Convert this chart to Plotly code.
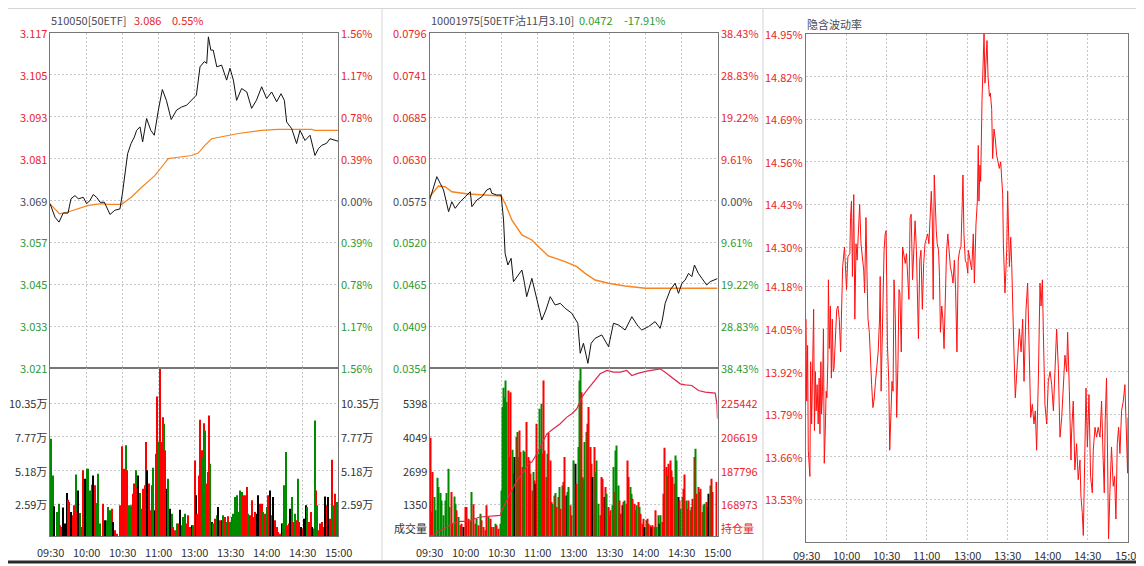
import plotly.graph_objects as go

# The page body adds an 8px margin, so the figure is sized to fit the window and
# every layout pixel position below is given in window coordinates.
OFF = 8
W, H = 1144 - OFF, 566 - OFF


def px(x):
    return (x - OFF) / W


def py(y):
    return 1 - (y - OFF) / H


RED = "#E8262B"
GREEN = "#2E9B2E"
NEUT = "#4A4A58"
TXT = "#333333"
GRID = "#C8C8C8"
FRAME = "#767676"
FONT = "Noto Sans CJK SC, sans-serif"
BAR_COL = {"r": "#FF0000", "g": "#008A00", "k": "#000000"}

# ---------------- time axis ----------------
time_ticks = [0, 30, 60, 90, 120, 150, 180, 210, 240]
time_labels = ["09:30", "10:00", "10:30", "11:00", "13:00", "13:30", "14:00", "14:30", "15:00"]

# ---------------- 510050 (left) ----------------
etf_t = [0, 4.2, 7.5, 11, 15, 17.5, 20.8, 23.6, 27.8, 30.5,
         33.3, 36, 38.9, 41.7, 45.3, 50, 54, 58.3, 60.3, 62.5,
         64.7, 67.5, 70.3, 72.2, 75, 77.2, 80.5, 84, 86.9, 90.3,
         93.6, 97, 101, 105.5, 109.7, 113.9, 118, 122, 125, 128.6,
         130.6, 132, 134, 136, 139, 143, 147.2, 150, 152.8, 155.5,
         159.7, 164, 168, 172, 176.4, 180.5, 184.7, 188.9, 192.5, 195.3,
         197.2, 201.4, 205.5, 208.3, 212.5, 216.7, 220.8, 223.6, 226.4, 230.5,
         233.3, 236.9, 240]
etf_price = [3.0681, 3.0642, 3.0628, 3.0654, 3.0654, 3.0695, 3.0704, 3.0695, 3.0699, 3.0681,
             3.0690, 3.0707, 3.0699, 3.0685, 3.0685, 3.0650, 3.0662, 3.0666, 3.0709, 3.0767,
             3.0824, 3.0853, 3.0872, 3.0891, 3.0901, 3.0858, 3.0925, 3.0891, 3.0877, 3.0949,
             3.1008, 3.0977, 3.0922, 3.0949, 3.0958, 3.0963, 3.0977, 3.0992, 3.1073, 3.1088,
             3.1083, 3.1159, 3.1121, 3.1121, 3.1073, 3.1078, 3.1035, 3.1069, 3.1035, 3.0977,
             3.1011, 3.1001, 3.0954, 3.0977, 3.1016, 3.0982, 3.1001, 3.0973, 3.0996, 3.0977,
             3.0915, 3.0896, 3.0853, 3.0891, 3.0862, 3.0877, 3.0819, 3.0838, 3.0848, 3.0854,
             3.0867, 3.0862, 3.0860]
etf_avg_t = [0, 7.9, 15, 23.6, 31.9, 43, 48.6, 59.7, 68, 76.4, 87.5, 93, 98.6,
             107, 118, 123.6, 129, 134.7, 143, 157, 176.4, 190, 218, 220.8, 240]
etf_avg = [3.0680, 3.0652, 3.0657, 3.0666, 3.0676, 3.0681, 3.0679, 3.0679, 3.0700, 3.0728,
           3.0762, 3.0786, 3.0810, 3.0814, 3.0819, 3.0826, 3.0848, 3.0867, 3.0872, 3.0882,
           3.0891, 3.0894, 3.0894, 3.0891, 3.0891]
etf_price_ticks = [3.117, 3.105, 3.093, 3.081, 3.069, 3.057, 3.045, 3.033, 3.021]
etf_pct_labels = ["1.56%", "1.17%", "0.78%", "0.39%", "0.00%", "0.39%", "0.78%", "1.17%", "1.56%"]
etf_vol_ticks = [2.59, 5.18, 7.77, 10.35]
etf_vol_labels = ["2.59万", "5.18万", "7.77万", "10.35万"]

etf_vol_t = [0.8, 1.9, 2.8, 3.6, 5.6, 7.2, 8.3, 9.7, 11.1, 12.5,
             13.9, 15.3, 16.1, 17.5, 18.9, 20.0, 21.4, 22.2, 23.6, 25.0,
             26.4, 27.8, 29.2, 30.6, 32.0, 33.3, 34.7, 36.1, 37.5, 38.9,
             39.7, 41.7, 44.4, 45.8, 47.2, 48.6, 50.0, 51.4, 52.8, 54.2,
             56.1, 58.3, 60.3, 61.7, 63.1, 64.2, 65.3, 66.7, 68.1, 69.4,
             70.3, 71.4, 72.2, 73.6, 75.0, 76.4, 77.8, 79.2, 80.0, 81.1,
             82.5, 83.9, 85.3, 86.1, 87.5, 88.3, 89.4, 90.6, 91.7, 92.8,
             93.9, 95.0, 96.1, 97.2, 98.6, 100.0, 101.4, 102.8, 104.2, 105.6,
             106.9, 108.3, 109.7, 111.1, 112.5, 113.9, 115.3, 116.7, 118.1, 119.4,
             120.8, 121.7, 122.8, 123.9, 125.0, 126.4, 127.2, 128.3, 129.2, 130.6,
             131.4, 132.5, 133.3, 134.7, 136.1, 137.5, 138.9, 140.3, 141.7, 143.1,
             144.4, 145.8, 147.2, 148.6, 150.0, 151.4, 152.8, 154.2, 155.6, 156.9,
             158.3, 159.7, 161.1, 162.5, 163.9, 165.3, 166.7, 168.1, 169.4, 170.8,
             172.2, 173.6, 175.0, 176.4, 177.8, 179.2, 180.6, 181.9, 183.3, 184.7,
             186.1, 187.5, 188.9, 190.3, 191.7, 193.1, 194.4, 195.3, 196.4, 197.8,
             199.2, 200.0, 201.4, 202.8, 204.2, 205.6, 206.4, 207.8, 209.2, 210.6,
             211.9, 213.3, 214.4, 215.8, 217.2, 218.6, 220.0, 220.8, 221.7, 222.8,
             223.6, 225.0, 226.4, 227.8, 229.2, 230.6, 231.9, 233.3, 234.7, 236.1,
             237.5, 238.9, 239.7]
etf_vol = [7.62, 2.77, 4.81, 2.44, 2.00, 2.64, 0.98, 0.85, 2.34, 1.11,
           3.46, 2.95, 2.77, 2.00, 1.75, 2.51, 4.87, 2.00, 3.66, 1.93,
           0.85, 5.20, 4.56, 5.32, 5.32, 3.66, 4.10, 4.81, 4.05, 2.69,
           4.94, 1.11, 2.64, 1.36, 1.36, 2.39, 2.13, 2.26, 1.24, 0.60,
           0.34, 2.51, 7.04, 5.32, 7.12, 5.20, 2.51, 2.51, 2.51, 3.41,
           4.18, 5.20, 3.92, 4.81, 3.46, 2.26, 3.79, 4.05, 7.37, 5.20,
           4.18, 2.13, 4.05, 5.40, 2.13, 6.47, 10.86, 7.37, 12.98, 7.37,
           9.28, 8.77, 6.73, 3.79, 4.56, 2.26, 1.87, 0.85, 0.60, 1.11,
           1.11, 2.18, 0.98, 1.62, 1.87, 1.11, 1.75, 0.85, 0.98, 0.98,
           5.96, 3.28, 1.87, 4.81, 9.08, 6.73, 6.22, 8.82, 8.26, 4.18,
           5.07, 9.41, 5.71, 1.24, 1.11, 1.49, 1.75, 2.39, 1.36, 1.36,
           1.75, 1.62, 1.24, 1.67, 1.24, 1.62, 1.87, 3.15, 3.28, 2.00,
           3.66, 3.54, 3.28, 3.28, 3.92, 1.87, 1.75, 2.90, 1.62, 2.00,
           1.87, 3.28, 2.64, 2.64, 2.00, 1.87, 2.39, 3.28, 3.66, 1.75,
           3.15, 1.36, 0.85, 0.47, 0.34, 1.11, 1.11, 4.05, 6.60, 0.98,
           1.11, 2.26, 3.15, 1.24, 1.87, 1.36, 4.56, 1.24, 0.85, 0.73,
           1.49, 2.51, 2.39, 1.24, 2.00, 0.85, 0.73, 9.03, 3.66, 2.51,
           0.60, 1.11, 1.24, 0.85, 3.20, 2.51, 3.15, 1.49, 6.01, 2.51,
           3.41, 2.77, 0.34]
etf_vol_dir = list("gggkggrrkk" "krrkrrgrkg" "rrkgggrkrg" "ggrkgggrkr" "rrrrgrgggr"
                   "rgrkggrrrk" "rrrgkrrgrr" "rgrkgkgrrg" "rkrggrrrkg" "rkrrrrgrgr"
                   "rrgkgrgkrk" "grgrgrgggg" "ggrrrgrrrr" "kkrrgrgrkg" "krrrrkgggr"
                   "rkgrgrgrkr" "kkgrrkrgrg" "rrrrkrkrrg" "rgr")

# ---------------- option 10001975 (middle) ----------------
opt_t = [0, 3.4, 6.1, 8.9, 11.7, 15.9, 18.6, 21.4, 25.6, 29.8,
         34, 35.3, 39.5, 43.6, 47.8, 50.6, 51.9, 56, 59.7, 61.7,
         63, 65.3, 68, 70, 73.6, 77, 79.2, 81, 85.3, 89.5,
         93.6, 97, 100.6, 104.7, 109, 113, 118.6, 123.6, 125.6, 128.3,
         132, 134.7, 138, 143.6, 149.2, 153.3, 157.5, 163, 168.6, 174,
         176.9, 182.5, 188, 192.2, 194, 196.4, 200.6, 204.7, 207.5, 210.3,
         213, 215.9, 218.6, 220.8, 224, 227, 231, 233.9, 238, 240]
opt_price = [0.05750, 0.05932, 0.06064, 0.05977, 0.05889, 0.05602, 0.05734, 0.05647, 0.05734, 0.05800,
             0.05866, 0.05668, 0.05756, 0.05800, 0.05889, 0.05911, 0.05845, 0.05823, 0.05823, 0.05493,
             0.05053, 0.04899, 0.04987, 0.04679, 0.04767, 0.04833, 0.04657, 0.04481, 0.04723, 0.04437,
             0.04173, 0.04305, 0.04481, 0.04371, 0.04393, 0.04328, 0.04262, 0.04130, 0.03734, 0.03866,
             0.03602, 0.03866, 0.03932, 0.03976, 0.03821, 0.04130, 0.04108, 0.04041, 0.04217, 0.04086,
             0.04041, 0.04086, 0.04152, 0.04063, 0.04173, 0.04394, 0.04569, 0.04658, 0.04525, 0.04658,
             0.04700, 0.04789, 0.04745, 0.04899, 0.04789, 0.04723, 0.04635, 0.04679, 0.04700, 0.04720]
opt_avg_t = [0, 7.5, 13, 18.6, 32.5, 46.4, 59.7, 63, 68.6, 77, 85.3, 92.2,
             99, 113, 122.8, 129.7, 138, 149, 163, 180, 196.4, 218.6, 240]
opt_avg = [0.05800, 0.05941, 0.05932, 0.05866, 0.05836, 0.05823, 0.05809, 0.05713, 0.05493, 0.05295,
           0.05229, 0.05119, 0.05018, 0.04943, 0.04877, 0.04789, 0.04701, 0.04658, 0.04622, 0.04592,
           0.04592, 0.04592, 0.04592]
opt_price_ticks = [0.0796, 0.0741, 0.0685, 0.0630, 0.0575, 0.0520, 0.0465, 0.0409, 0.0354]
opt_price_labels = ["0.0796", "0.0741", "0.0685", "0.0630", "0.0575", "0.0520", "0.0465", "0.0409", "0.0354"]
opt_pct_labels = ["38.43%", "28.83%", "19.22%", "9.61%", "0.00%", "9.61%", "19.22%", "28.83%", "38.43%"]
opt_vol_ticks = [1350, 2699, 4049, 5398]
opt_oi_ticks = [168973, 187796, 206619, 225442]

opt_vol_t = [0.6, 1.4, 2.8, 3.9, 5.3, 6.7, 7.8, 8.9, 10.3, 11.7,
             13.1, 14.5, 15.8, 16.7, 18.1, 19.2, 20.6, 21.7, 22.8, 24.2,
             25.6, 27.0, 28.3, 29.7, 31.1, 32.5, 33.9, 35.3, 36.7, 38.1,
             39.5, 40.8, 42.2, 43.6, 45.0, 46.4, 47.8, 49.2, 50.6, 52.0,
             53.3, 54.7, 56.1, 57.5, 58.9, 59.7, 60.6, 61.7, 62.2, 63.3,
             64.4, 65.6, 66.7, 67.8, 68.9, 70.0, 71.1, 72.2, 73.1, 74.2,
             75.0, 76.1, 77.2, 78.3, 79.5, 81.1, 82.2, 83.3, 84.5, 85.6,
             86.7, 87.8, 88.6, 89.5, 90.8, 91.7, 92.8, 93.6, 94.5, 95.0,
             95.8, 97.2, 98.3, 99.5, 100.6, 101.7, 102.8, 103.9, 105.0, 106.1,
             107.2, 108.3, 109.5, 110.6, 111.7, 112.8, 113.9, 115.0, 116.1, 117.2,
             118.6, 120.0, 121.4, 122.8, 123.9, 125.0, 125.6, 126.4, 127.2, 128.3,
             129.5, 130.6, 131.7, 132.8, 133.9, 135.0, 136.1, 137.2, 138.3, 139.5,
             140.8, 142.2, 143.3, 144.5, 145.6, 146.7, 147.8, 148.9, 150.0, 151.1,
             152.2, 153.3, 154.5, 155.3, 156.1, 157.2, 158.3, 159.5, 160.6, 161.7,
             162.8, 163.9, 165.0, 166.1, 167.2, 168.3, 169.5, 170.6, 171.7, 172.8,
             173.9, 175.0, 176.1, 177.2, 178.3, 179.5, 180.6, 181.7, 182.8, 183.9,
             185.0, 186.1, 187.2, 188.3, 189.4, 190.6, 191.7, 192.8, 193.9, 195.0,
             196.1, 197.2, 198.3, 199.5, 200.6, 201.7, 202.8, 203.9, 205.0, 206.1,
             207.2, 208.3, 209.4, 210.6, 211.7, 212.8, 213.9, 215.0, 216.1, 217.2,
             218.3, 219.4, 220.6, 221.7, 222.8, 223.9, 225.0, 226.1, 227.2, 228.3,
             229.5, 230.6, 231.7, 232.8, 233.9, 235.0, 236.1, 239.5]
opt_vol = [4012, 1040, 2639, 1640, 1106, 2413, 2039, 1800, 1506, 906,
           1506, 1800, 2773, 1240, 1840, 573, 1666, 1373, 1106, 840,
           507, 573, 440, 1240, 1240, 773, 706, 1840, 1346, 573,
           773, 507, 973, 706, 440, 307, 1306, 840, 773, 440,
           440, 573, 507, 373, 573, 1906, 5239, 6012, 5639, 6305,
           5439, 5905, 3239, 5839, 3532, 2573, 3239, 4039, 4239, 3239,
           4306, 3439, 2839, 3506, 3439, 4639, 3239, 3106, 2573, 1906,
           2639, 2306, 2173, 4572, 3372, 5172, 3572, 5372, 3372, 6305,
           3506, 2439, 3372, 4199, 3106, 1440, 1373, 1706, 1800, 1240,
           1640, 2039, 1173, 2106, 2239, 3239, 1706, 1840, 2039, 1306,
           906, 3106, 2973, 2173, 3639, 6305, 6780, 5839, 2439, 2373,
           3839, 4239, 4572, 5239, 3639, 2973, 2439, 3639, 2639, 3106,
           1373, 906, 2439, 2373, 1640, 2039, 1773, 1240, 906, 1106,
           1306, 2839, 1840, 3506, 3706, 2106, 1506, 973, 1306, 1440,
           1506, 1373, 3106, 2439, 2039, 1773, 1573, 1373, 1106, 1306,
           1440, 1240, 973, 573, 773, 440, 706, 773, 573, 507,
           440, 507, 440, 1106, 440, 906, 573, 906, 640, 1773,
           3612, 2839, 2506, 2973, 3106, 2706, 2439, 2173, 3306, 3106,
           1640, 1506, 1173, 1640, 1973, 2546, 1506, 1173, 1506, 1106,
           1240, 1573, 3239, 3572, 1773, 2039, 1840, 1973, 1040, 1306,
           1373, 1440, 1240, 1773, 2106, 2373, 1840, 2239]
opt_vol_dir = list("rrrggggggg" "ggggrrggrg" "rrkrrrrgrr" "grgrrrrgrr" "rgrrgggggg"
                   "grrrggkrgg" "rrrggrrrrr" "grkrggggrr" "rrgrrrgrgr" "rgrgrrkggr"
                   "rgkrgggrrg" "ggrrrrkrgg" "grrrkrgrrr" "ggrgggrrkr" "grrrggrrrg"
                   "rgrrrkgrrr" "krgrggkgrr" "rrgrrrrrgg" "krggrrgrrr" "grrgrrgrrg"
                   "grrkgrrr")

oi_t = [0.6, 4.7, 8.9, 14.5, 18.6, 25.6, 33.9, 35.3, 42.2, 50.6,
        58.9, 60.3, 64.4, 68.6, 72.8, 78.3, 82.5, 85.3, 89.5, 95.0,
        97.8, 103.3, 108.9, 114.5, 118.6, 122.8, 127.0, 131.1, 136.7, 142.2,
        147.8, 153.3, 158.9, 164.4, 168.6, 174.2, 181.1, 186.7, 192.2, 196.4,
        203.3, 208.9, 213.1, 218.6, 224.2, 229.7, 238.1, 239.5, 240]
oi_val = [151322, 152623, 154481, 156339, 158197, 159497, 159497, 160426, 161913, 162284,
          162842, 165629, 171203, 176777, 182351, 186996, 191641, 192570, 197215, 204647,
          208363, 211150, 213937, 217653, 219511, 222298, 228801, 232517, 237162, 241807,
          243665, 242736, 242736, 243665, 240878, 242179, 243294, 244037, 244594, 242736,
          239020, 236233, 235676, 235305, 232517, 231588, 231031, 225085, 216722]

# ---------------- implied volatility (right) ----------------
iv_t = [0, 0.5, 1.2, 1.7, 2.9, 3.5, 4.2, 5.0, 5.7, 6.3,
        7.0, 7.6, 8.3, 9.1, 9.8, 10.4, 11.1, 11.6, 12.3, 13.0,
        13.6, 14.3, 15.0, 15.6, 16.3, 16.7, 17.4, 18.2, 18.9, 19.6,
        20.3, 20.9, 21.9, 22.9, 23.8, 24.8, 25.8, 26.5, 27.3, 28.7,
        30.2, 31.2, 32.7, 33.2, 33.9, 34.6, 35.6, 36.4, 37.3, 38.1,
        39.3, 40.0, 41.0, 42.0, 43.0, 43.7, 44.7, 45.5, 46.2, 47.2,
        47.9, 48.9, 49.9, 50.9, 51.8, 52.8, 53.8, 54.8, 55.3, 56.0,
        57.0, 58.2, 59.0, 59.7, 60.7, 61.7, 62.4, 63.1, 64.1, 64.9,
        65.6, 66.6, 67.6, 68.6, 69.3, 70.0, 71.0, 72.0, 73.0, 74.0,
        74.9, 75.9, 76.7, 77.6, 78.4, 79.4, 80.3, 81.3, 82.3, 83.0,
        83.8, 84.8, 85.7, 86.7, 87.7, 88.7, 89.7, 90.7, 91.6, 92.6,
        93.4, 94.1, 94.8, 95.6, 96.3, 97.1, 97.8, 98.8, 99.5, 100.2,
        101.2, 102.0, 102.9, 103.9, 104.7, 105.7, 106.6, 107.6, 108.6, 109.6,
        110.6, 111.5, 112.5, 113.5, 114.5, 115.5, 116.5, 117.0, 117.7, 118.7,
        119.7, 120.6, 121.0, 122.3, 123.5, 124.7, 125.5, 126.7, 127.7, 128.4,
        128.9, 129.7, 130.2, 131.2, 131.9, 132.7, 133.4, 134.2, 134.9, 135.7,
        136.7, 137.4, 138.4, 139.1, 140.1, 141.1, 142.1, 143.1, 144.1, 145.1,
        146.1, 146.6, 147.1, 147.6, 148.3, 149.6, 150.3, 151.6, 152.6, 153.3,
        154.0, 155.0, 156.0, 157.5, 159.0, 160.3, 161.5, 162.5, 164.0, 165.2,
        166.5, 167.5, 168.7, 169.9, 170.9, 171.9, 173.2, 174.4, 175.2, 176.2,
        176.9, 178.1, 179.4, 180.6, 181.9, 183.1, 184.4, 185.6, 186.8, 188.1,
        189.3, 190.6, 191.8, 193.0, 194.3, 195.0, 196.3, 197.5, 197.9, 199.2,
        200.4, 201.7, 202.9, 204.2, 204.9, 205.9, 206.7, 207.9, 208.7, 209.7,
        210.9, 212.1, 213.4, 214.1, 215.4, 216.6, 217.8, 219.1, 220.3, 221.5,
        222.3, 223.0, 224.0, 224.8, 225.5, 226.5, 227.7, 229.0, 230.0, 231.0,
        232.0, 233.0, 234.0, 235.2, 236.5, 237.7, 238.9, 239.7, 240.0]
iv_val = [14.08, 13.83, 14.00, 13.68, 13.60, 13.95, 13.76, 13.98, 14.11, 13.74,
          13.92, 13.80, 13.88, 13.76, 13.90, 13.73, 13.95, 13.79, 13.86, 14.05,
          13.64, 13.73, 13.86, 13.84, 13.95, 14.20, 13.99, 14.12, 13.90, 14.08,
          13.92, 13.93, 14.05, 14.11, 14.12, 14.08, 13.98, 14.12, 14.24, 14.30,
          14.17, 14.27, 14.28, 14.39, 14.44, 14.21, 14.46, 14.08, 14.31, 14.26,
          14.35, 14.43, 14.31, 14.26, 14.23, 14.16, 14.39, 14.21, 14.08, 14.04,
          13.95, 13.88, 13.81, 13.84, 13.89, 13.93, 13.98, 14.08, 14.21, 13.86,
          14.10, 14.29, 14.34, 14.35, 14.00, 13.89, 13.68, 13.75, 13.89, 13.86,
          14.20, 14.08, 13.78, 13.96, 14.17, 14.16, 13.98, 14.30, 14.27, 14.25,
          14.28, 14.19, 14.14, 14.39, 14.40, 14.20, 14.31, 14.38, 14.29, 14.09,
          14.02, 14.26, 14.29, 14.11, 14.25, 14.31, 14.33, 14.34, 14.31, 14.39,
          14.47, 14.39, 14.14, 14.52, 14.42, 14.35, 14.31, 14.29, 14.21, 14.04,
          14.12, 14.08, 13.99, 14.19, 14.28, 14.34, 14.29, 14.24, 14.22, 14.19,
          14.26, 14.17, 13.98, 14.26, 14.29, 14.30, 14.44, 14.52, 14.34, 14.26,
          14.25, 14.22, 14.29, 14.26, 14.23, 14.34, 14.19, 14.37, 14.44, 14.61,
          14.44, 14.55, 14.50, 14.75, 14.87, 14.95, 14.80, 14.88, 14.93, 14.82,
          14.76, 14.77, 14.72, 14.57, 14.66, 14.63, 14.58, 14.56, 14.54, 14.56,
          14.47, 14.46, 14.31, 14.21, 14.16, 14.29, 14.47, 14.24, 14.33, 14.25,
          14.09, 13.98, 13.84, 13.96, 14.05, 13.98, 14.08, 13.89, 14.11, 14.19,
          13.94, 13.78, 13.82, 13.76, 13.80, 13.68, 13.90, 14.19, 14.12, 14.20,
          14.04, 13.82, 13.76, 13.89, 13.92, 13.88, 13.80, 13.96, 14.05, 13.93,
          13.72, 13.78, 13.88, 13.97, 13.92, 14.04, 13.86, 13.65, 13.73, 13.83,
          13.62, 13.70, 13.59, 13.65, 13.54, 13.49, 13.42, 13.75, 13.87, 13.69,
          13.85, 13.60, 13.55, 13.68, 13.75, 13.72, 13.75, 13.72, 13.83, 13.65,
          13.55, 13.77, 13.90, 13.65, 13.41, 13.55, 13.69, 13.57, 13.60, 13.47,
          13.70, 13.75, 13.67, 13.80, 13.83, 13.88, 13.69, 13.61, 13.78]
iv_ticks = [14.95, 14.82, 14.69, 14.56, 14.43, 14.30, 14.18, 14.05, 13.92, 13.79, 13.66, 13.53]
iv_labels = ["14.95%", "14.82%", "14.69%", "14.56%", "14.43%", "14.30%", "14.18%",
             "14.05%", "13.92%", "13.79%", "13.66%", "13.53%"]

# ---------------- layout geometry (window pixels) ----------------
LX = (50, 338)
MX = (429.5, 717.5)
RX = (806, 1128)
PRICE_Y = (33, 368)
VOL_Y = (368, 536)
IV_Y = (34, 542)


def n2(a, b):
    n = min(len(a), len(b))
    return a[:n], b[:n]


fig = go.Figure()

vt, vv = n2(etf_vol_t, etf_vol)
vd = (etf_vol_dir + ["k"] * len(vt))[:len(vt)]
fig.add_trace(go.Bar(x=vt, y=vv, width=0.8, marker=dict(color=[BAR_COL[c] for c in vd], line_width=0),
                     xaxis="x2", yaxis="y2"))
ot, ov = n2(opt_vol_t, opt_vol)
od = (opt_vol_dir + ["k"] * len(ot))[:len(ot)]
fig.add_trace(go.Bar(x=ot, y=ov, width=0.8, marker=dict(color=[BAR_COL[c] for c in od], line_width=0),
                     xaxis="x4", yaxis="y4"))
a, b = n2(oi_t, oi_val)
fig.add_trace(go.Scatter(x=a, y=b, mode="lines", line=dict(color="#E0284F", width=1.2),
                         xaxis="x4", yaxis="y6"))

a, b = n2(etf_avg_t, etf_avg)
fig.add_trace(go.Scatter(x=a, y=b, mode="lines", line=dict(color="#F7841E", width=1.2), xaxis="x", yaxis="y"))
a, b = n2(etf_t, etf_price)
fig.add_trace(go.Scatter(x=a, y=b, mode="lines", line=dict(color="#111111", width=1), xaxis="x", yaxis="y"))
a, b = n2(opt_avg_t, opt_avg)
fig.add_trace(go.Scatter(x=a, y=b, mode="lines", line=dict(color="#F7841E", width=1.4), xaxis="x3", yaxis="y3"))
a, b = n2(opt_t, opt_price)
fig.add_trace(go.Scatter(x=a, y=b, mode="lines", line=dict(color="#111111", width=1), xaxis="x3", yaxis="y3"))
a, b = n2(iv_t, iv_val)
fig.add_trace(go.Scatter(x=a, y=b, mode="lines", line=dict(color="#FF1010", width=1), xaxis="x5", yaxis="y5"))


def xax(dom, anchor):
    return dict(domain=[px(dom[0]), px(dom[1])], anchor=anchor, range=[0, 240], tickvals=time_ticks,
                showticklabels=False, ticks="", showgrid=True, gridcolor=GRID, griddash="2px,2px",
                gridwidth=1, showline=True, mirror=True, linecolor=FRAME, linewidth=1,
                zeroline=False, fixedrange=True)


def yax(dom, anchor, rng, ticks):
    return dict(domain=[py(dom[1]), py(dom[0])], anchor=anchor, range=rng, tickvals=ticks,
                showticklabels=False, ticks="", showgrid=True, gridcolor=GRID, griddash="2px,2px",
                gridwidth=1, showline=True, mirror=True, linecolor=FRAME, linewidth=1,
                zeroline=False, fixedrange=True)


layout = dict(
    width=W, height=H, margin=dict(l=0, r=0, t=0, b=0),
    paper_bgcolor="white", plot_bgcolor="white", showlegend=False,
    xaxis=xax(LX, "y"), yaxis=yax(PRICE_Y, "x", [3.021, 3.117], etf_price_ticks[1:-1]),
    xaxis2=xax(LX, "y2"), yaxis2=yax(VOL_Y, "x2", [0.16, 13.05], etf_vol_ticks),
    xaxis3=xax(MX, "y3"), yaxis3=yax(PRICE_Y, "x3", [0.0354, 0.0796], opt_price_ticks[1:-1]),
    xaxis4=xax(MX, "y4"), yaxis4=yax(VOL_Y, "x4", [80, 6805], opt_vol_ticks),
    xaxis5=xax(RX, "y5"), yaxis5=yax(IV_Y, "x5", [13.40, 14.95], iv_ticks[1:]),
    yaxis6=dict(overlaying="y4", anchor="x4", range=[151322, 245058], showgrid=False,
                showticklabels=False, showline=False, zeroline=False, fixedrange=True),
)

ann = []


def label(text, x, y, color=TXT, size=11, xanchor="left", yanchor="middle", xref="paper", yref="paper"):
    ann.append(dict(text=text, x=x, y=y, xref=xref, yref=yref, showarrow=False,
                    font=dict(family=FONT, size=size, color=color),
                    xanchor=xanchor, yanchor=yanchor, borderpad=0))


def col(i, n):
    mid = n // 2
    return RED if i < mid else (NEUT if i == mid else GREEN)


for i, v in enumerate(etf_price_ticks):
    label(f"{v:.3f}", px(LX[0] - 2), v, col(i, 9), xanchor="right", yref="y")
    label(etf_pct_labels[i], px(LX[1] + 2), v, col(i, 9), xanchor="left", yref="y")
for v, t in zip(etf_vol_ticks, etf_vol_labels):
    label(t, px(LX[0] - 2), v, TXT, xanchor="right", yref="y2")
    label(t, px(LX[1] + 2), v, TXT, xanchor="left", yref="y2")

for i, v in enumerate(opt_price_ticks):
    label(opt_price_labels[i], px(MX[0] - 2), v, col(i, 9), xanchor="right", yref="y3")
    label(opt_pct_labels[i], px(MX[1] + 2), v, col(i, 9), xanchor="left", yref="y3")
for v in opt_vol_ticks:
    label(str(v), px(MX[0] - 2), v, TXT, xanchor="right", yref="y4")
for v in opt_oi_ticks:
    label(str(v), px(MX[1] + 2), v, RED, xanchor="left", yref="y6")
label("成交量", px(MX[0] - 2), py(528), TXT, xanchor="right")
label("持仓量", px(MX[1] + 2), py(528), RED, xanchor="left")

for v, t in zip(iv_ticks, iv_labels):
    label(t, px(RX[0] - 2), v, RED, xanchor="right", yref="y5")

for v, t in zip(time_ticks, time_labels):
    label(t, v, py(552), TXT, xanchor="center", xref="x2")
    label(t, v, py(552), TXT, xanchor="center", xref="x4")
    label(t, v, py(555), TXT, xanchor="center", xref="x5")

label("510050[50ETF]", px(50), py(20), NEUT, xanchor="left")
label("3.086", px(133), py(20), RED, xanchor="left")
label("0.55%", px(171), py(20), RED, xanchor="left")
label("10001975[50ETF沽11月3.10]", px(430), py(20), NEUT, xanchor="left")
label("0.0472", px(578), py(20), GREEN, xanchor="left")
label("-17.91%", px(623), py(20), GREEN, xanchor="left")
label("隐含波动率", px(806), py(24), NEUT, xanchor="left")

layout["annotations"] = ann

layout["shapes"] = [
    dict(type="line", xref="paper", yref="paper", x0=0, x1=1, y0=py(8.5), y1=py(8.5),
         line=dict(color="#D4D4D4", width=1)),
    dict(type="line", xref="paper", yref="paper", x0=px(382), x1=px(382), y0=py(8.5), y1=py(560),
         line=dict(color="#D4D4D4", width=1)),
    dict(type="line", xref="paper", yref="paper", x0=px(763), x1=px(763), y0=py(8.5), y1=py(560),
         line=dict(color="#D4D4D4", width=1)),
    dict(type="line", xref="paper", yref="paper", x0=px(1141), x1=px(1141), y0=py(8.5), y1=py(560),
         line=dict(color="#D4D4D4", width=1)),
    dict(type="line", xref="paper", yref="paper", x0=0, x1=1, y0=py(562), y1=py(562),
         line=dict(color="#2A2A2A", width=3)),
]

fig.update_layout(**layout)
fig.write_html("out.html")
